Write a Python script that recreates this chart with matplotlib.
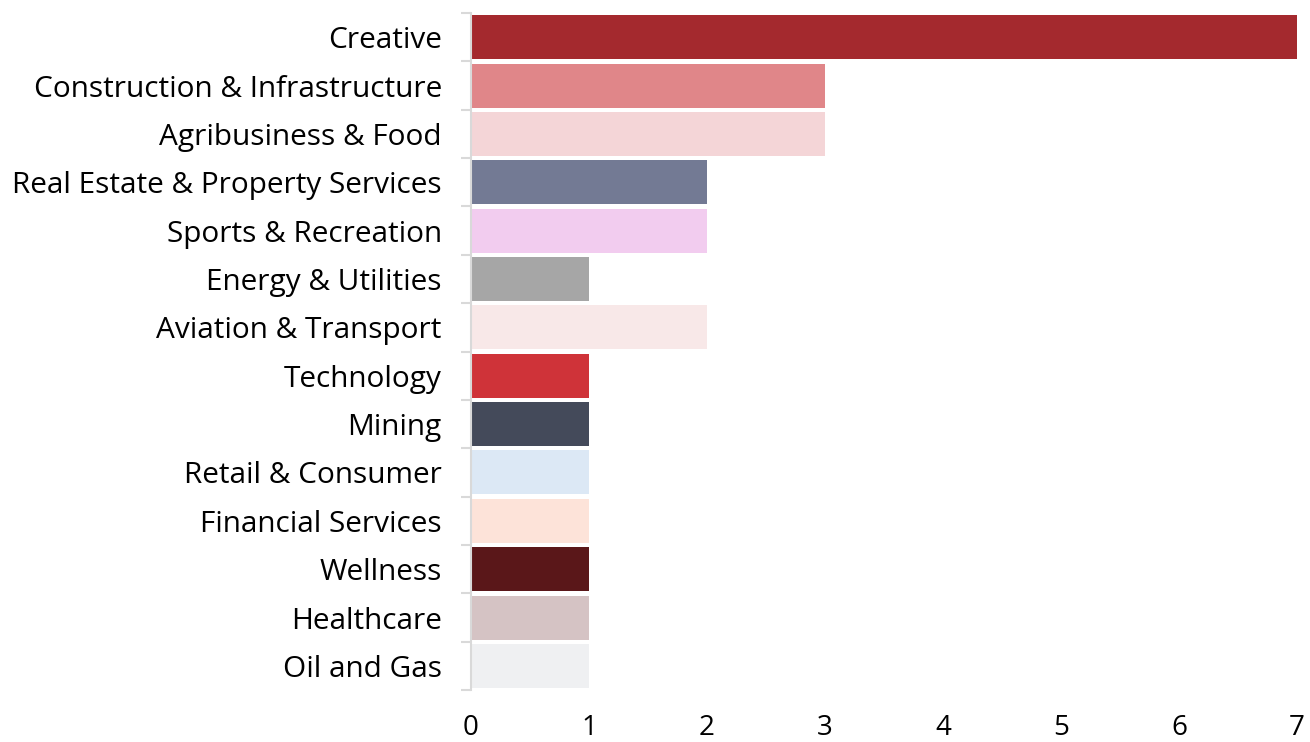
import matplotlib
matplotlib.use("Agg")
import matplotlib.pyplot as plt
import numpy as np
from matplotlib.ticker import FixedLocator

categories = ["Creative", "Construction & Infrastructure", "Agribusiness & Food",
              "Real Estate & Property Services", "Sports & Recreation", "Energy & Utilities",
              "Aviation & Transport", "Technology", "Mining", "Retail & Consumer",
              "Financial Services", "Wellness", "Healthcare", "Oil and Gas"]
values = [7, 3, 3, 2, 2, 1, 2, 1, 1, 1, 1, 1, 1, 1]
colors = ["#A4292E", "#E08689", "#F4D5D7", "#737A94", "#F2CCEF", "#A6A6A6", "#F8E8E8",
          "#CF3339", "#444A5A", "#DCE8F5", "#FDE3D9", "#5A1719", "#D5C3C4", "#EFF0F2"]
xticks = [0, 1, 2, 3, 4, 5, 6, 7]

plt.rcParams['font.family'] = ['Open Sans', 'DejaVu Sans']

fig = plt.figure(figsize=(13.1, 7.42), dpi=100)
ax = fig.add_axes([0.3595, 0.070, 0.6305, 0.9125])

y = np.arange(len(categories))
ax.barh(y, values, height=0.91, color=colors, edgecolor="none")
ax.set_ylim(len(categories) - 0.5, -0.5)
ax.set_xlim(0, 7)
ax.set_yticks(y)
ax.set_yticklabels(categories, fontsize=21.4)
ax.yaxis.set_minor_locator(FixedLocator(np.arange(-0.5, len(categories), 1)))
ax.tick_params(axis='y', which='major', length=0, pad=21)
ax.tick_params(axis='y', which='minor', length=7, width=1.5, color="#D9D9D9")
ax.set_xticks(xticks)
ax.set_xticklabels([str(t) for t in xticks], fontsize=20)
ax.tick_params(axis='x', length=0, pad=17)

for s in ["top", "right", "bottom"]:
    ax.spines[s].set_visible(False)
ax.spines["left"].set_color("#D9D9D9")
ax.spines["left"].set_linewidth(1.5)

fig.savefig("out.png", dpi=100)
